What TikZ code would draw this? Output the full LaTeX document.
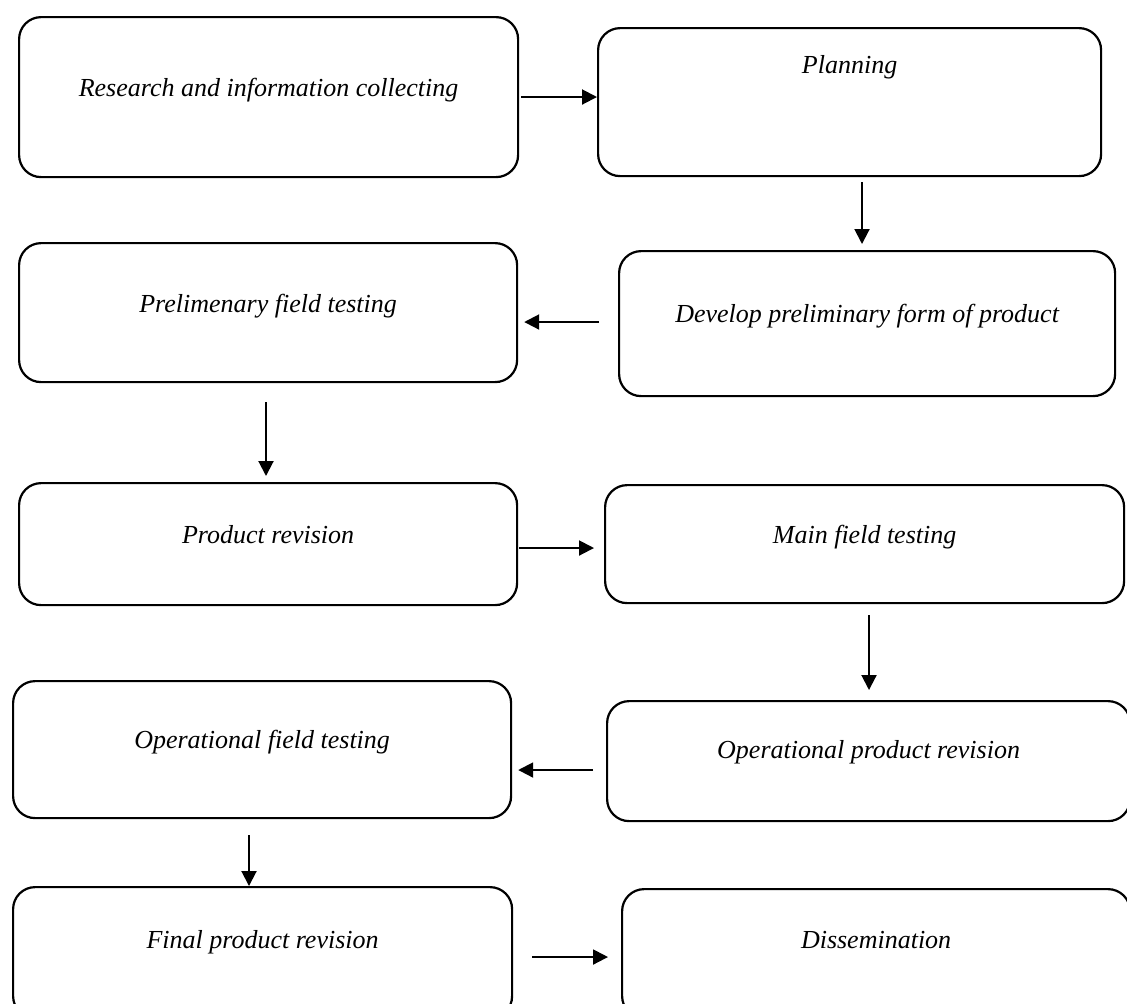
\documentclass[tikz,border=0pt]{standalone}
\usepackage{fontspec}
\setmainfont{Liberation Serif}
\usetikzlibrary{arrows.meta}

\begin{document}
\begin{tikzpicture}[x=0.5pt,y=-0.5pt,
  stage/.style={draw,line width=1.1pt,rounded corners=11pt,inner sep=0pt,
    anchor=north west,font=\fontsize{13}{15}\selectfont\itshape},
  link/.style={-{Triangle[length=7.5pt,width=7.5pt]},line width=1pt}]
\useasboundingbox (0,0) rectangle (1127,1003);

\node[stage,minimum width=249.5pt,text height=39.5pt,text depth=40.5pt] (res) at (18,16)
   {Research and information collecting};
\node[stage,minimum width=251.5pt,text height=22.5pt,text depth=51.5pt] (plan) at (597,27)
   {Planning};
\node[stage,minimum width=248pt,text height=35.5pt,text depth=37pt] (dev) at (618,250)
   {Develop preliminary form of product};
\node[stage,minimum width=249pt,text height=34.5pt,text depth=35pt] (pre) at (18,242)
   {Prelimenary field testing};
\node[stage,minimum width=249pt,text height=30pt,text depth=31pt] (prod) at (18,482)
   {Product revision};
\node[stage,minimum width=259.5pt,text height=29pt,text depth=30pt] (main) at (604,484)
   {Main field testing};
\node[stage,minimum width=249pt,text height=33.5pt,text depth=35pt] (opf) at (12,680)
   {Operational field testing};
\node[stage,minimum width=261.5pt,text height=28.5pt,text depth=31.5pt] (opp) at (606,700)
   {Operational product revision};
\node[stage,minimum width=249.5pt,text height=30.5pt,text depth=35pt] (fin) at (12,886)
   {Final product revision};
\node[stage,minimum width=254pt,text height=29.5pt,text depth=35pt] (dis) at (621,888)
   {Dissemination};

\draw[link,shorten <=1pt] (res.east |- 0,97) -- (plan.west |- 0,97);
\draw[link,shorten <=2.5pt,shorten >=3pt] (plan.south -| 862,0) -- (dev.north -| 862,0);
\draw[link,shorten <=9.5pt,shorten >=3pt] (dev.west |- 0,322) -- (pre.east |- 0,322);
\draw[link,shorten <=9.5pt,shorten >=3pt] (pre.south -| 266,0) -- (prod.north -| 266,0);
\draw[link,shorten <=0.5pt,shorten >=5pt] (prod.east |- 0,548) -- (main.west |- 0,548);
\draw[link,shorten <=5.5pt,shorten >=5pt] (main.south -| 869,0) -- (opp.north -| 869,0);
\draw[link,shorten <=6.5pt,shorten >=3pt] (opp.west |- 0,770) -- (opf.east |- 0,770);
\draw[link,shorten <=8pt] (opf.south -| 249,0) -- (fin.north -| 249,0);
\draw[link,shorten <=9.5pt,shorten >=6.5pt] (fin.east |- 0,957) -- (dis.west |- 0,957);
\end{tikzpicture}
\end{document}
